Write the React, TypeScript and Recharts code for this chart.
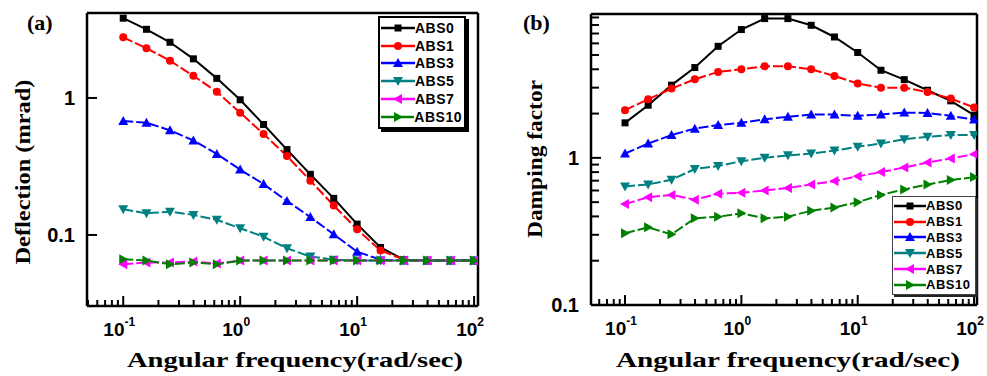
import { LineChart, Line, XAxis, YAxis, Legend, Label, ReferenceLine } from 'recharts';

// angular frequency (rad/s), 5 points per decade
const freq = [0.1, 0.158, 0.251, 0.398, 0.631, 1, 1.585, 2.512, 3.981, 6.31, 10, 15.85, 25.12, 39.81, 63.1, 100];

// (a) deflection, mrad
const defAbs0 = [3.82, 3.17, 2.55, 1.93, 1.39, 0.97, 0.64, 0.42, 0.277, 0.185, 0.12, 0.081, 0.066, 0.065, 0.065, 0.065];
const defAbs1 = [2.77, 2.31, 1.87, 1.45, 1.11, 0.78, 0.546, 0.377, 0.249, 0.164, 0.11, 0.077, 0.066, 0.065, 0.065, 0.065];
const defAbs3 = [0.68, 0.66, 0.58, 0.49, 0.39, 0.3, 0.235, 0.177, 0.135, 0.101, 0.0755, 0.066, 0.065, 0.065, 0.065, 0.065];
const defAbs5 = [0.154, 0.144, 0.148, 0.14, 0.129, 0.112, 0.097, 0.08, 0.0695, 0.066, 0.065, 0.065, 0.065, 0.065, 0.065, 0.065];
const defAbs7 = [0.061, 0.063, 0.063, 0.064, 0.062, 0.065, 0.065, 0.065, 0.065, 0.065, 0.065, 0.065, 0.065, 0.065, 0.065, 0.065];
const defAbs10 = [0.0665, 0.065, 0.061, 0.063, 0.061, 0.065, 0.065, 0.065, 0.065, 0.065, 0.065, 0.065, 0.065, 0.065, 0.065, 0.065];

// (b) damping factor
const dmpAbs0 = [1.73, 2.28, 3.12, 4.11, 5.73, 7.45, 8.84, 8.84, 7.96, 6.63, 5.2, 3.94, 3.4, 2.88, 2.44, 1.95];
const dmpAbs1 = [2.11, 2.5, 2.96, 3.42, 3.84, 4.0, 4.19, 4.19, 4.0, 3.6, 3.2, 3.0, 3.0, 2.8, 2.53, 2.2];
const dmpAbs3 = [1.07, 1.25, 1.43, 1.58, 1.67, 1.73, 1.83, 1.9, 1.97, 1.97, 1.93, 1.97, 2.03, 2.02, 1.93, 1.82];
const dmpAbs5 = [0.64, 0.66, 0.71, 0.84, 0.88, 0.95, 1.0, 1.04, 1.07, 1.12, 1.19, 1.25, 1.34, 1.39, 1.43, 1.43];
const dmpAbs7 = [0.485, 0.54, 0.56, 0.52, 0.57, 0.58, 0.6, 0.625, 0.66, 0.695, 0.75, 0.8, 0.86, 0.93, 0.99, 1.06];
const dmpAbs10 = [0.307, 0.337, 0.302, 0.388, 0.398, 0.42, 0.388, 0.398, 0.437, 0.46, 0.5, 0.56, 0.61, 0.66, 0.706, 0.74];

const seriesNames = ['ABS0', 'ABS1', 'ABS3', 'ABS5', 'ABS7', 'ABS10'];
const seriesColors = ['#000000', '#ff0000', '#0000ff', '#008080', '#ff00ff', '#008000'];
const seriesShapes = ['square', 'circle', 'up', 'down', 'left', 'right'];

const xMajor = [0.1, 1, 10, 100];
const xTicks = [0.05, 0.06, 0.07, 0.08, 0.09, 0.1, 0.2, 0.3, 0.4, 0.5, 0.6, 0.7, 0.8, 0.9, 1, 2, 3, 4, 5, 6, 7, 8, 9, 10, 20, 30, 40, 50, 60, 70, 80, 90, 100];
const yTicksA = [0.1, 1];
const yTicksB = [0.1, 0.2, 0.3, 0.4, 0.5, 0.6, 0.7, 0.8, 0.9, 1, 2, 3, 4, 5, 6, 7, 8, 9];

const xDomainA = [0.049, 108];
const yDomainA = [0.0303, 4.17];
const xDomainB = [0.051, 106];
const yDomainB = [0.1, 9.5];

const deflection = freq.map((f, i) => ({
  f,
  ABS0: defAbs0[i],
  ABS1: defAbs1[i],
  ABS3: defAbs3[i],
  ABS5: defAbs5[i],
  ABS7: defAbs7[i],
  ABS10: defAbs10[i],
}));

const damping = freq.map((f, i) => ({
  f,
  ABS0: dmpAbs0[i],
  ABS1: dmpAbs1[i],
  ABS3: dmpAbs3[i],
  ABS5: dmpAbs5[i],
  ABS7: dmpAbs7[i],
  ABS10: dmpAbs10[i],
}));

const SANS = '"Liberation Sans", Arial, sans-serif';
const SERIF = '"Liberation Serif", "Times New Roman", serif';

function Marker({ shape, cx, cy, color }: { shape: string; cx: number; cy: number; color: string }) {
  if (shape === 'square') return <rect x={cx - 3.5} y={cy - 3.5} width={7} height={7} fill={color} />;
  if (shape === 'circle') return <circle cx={cx} cy={cy} r={4} fill={color} />;
  const s = 5;
  let pts = '';
  if (shape === 'up') pts = `${cx},${cy - s} ${cx + s},${cy + s * 0.8} ${cx - s},${cy + s * 0.8}`;
  if (shape === 'down') pts = `${cx},${cy + s} ${cx + s},${cy - s * 0.8} ${cx - s},${cy - s * 0.8}`;
  if (shape === 'left') pts = `${cx - s},${cy} ${cx + s * 0.8},${cy - s} ${cx + s * 0.8},${cy + s}`;
  if (shape === 'right') pts = `${cx + s},${cy} ${cx - s * 0.8},${cy - s} ${cx - s * 0.8},${cy + s}`;
  return <polygon points={pts} fill={color} />;
}

// labels only; the inward tick marks are drawn as reference-line stubs
function XTick(props: any) {
  const { x, y, payload } = props;
  const v = payload.value;
  if (!xMajor.includes(v)) return <g />;
  const exp = Math.round(Math.log10(v));
  return (
    <text x={x - 4} y={y + 30} textAnchor="middle" fontFamily={SANS} fontWeight="bold" fontSize={19} fill="#000">
      10
      <tspan dy={-10} fontSize={12}>
        {exp}
      </tspan>
    </text>
  );
}

function YTick(props: any) {
  const { x, y, payload } = props;
  const v = payload.value;
  if (v !== 1 && v !== 0.1) return <g />;
  return (
    <text x={x - 12} y={y} dy={7} textAnchor="end" fontFamily={SANS} fontWeight="bold" fontSize={20} fill="#000">
      {v === 1 ? '1' : '0.1'}
    </text>
  );
}

function XStub(len: number) {
  return (p: any) => {
    const yb = Math.max(p.y1, p.y2);
    return <path d={`M${p.x1},${yb}V${yb - len}`} stroke="#000" strokeWidth={2} fill="none" />;
  };
}

function YStub(len: number) {
  return (p: any) => {
    const xl = Math.min(p.x1, p.x2);
    return <path d={`M${xl},${p.y1}H${xl + len}`} stroke="#000" strokeWidth={2} fill="none" />;
  };
}

function renderTickMarks(yTicks: number[]) {
  return [
    ...xTicks.map((v) => <ReferenceLine key={`xt${v}`} x={v} shape={XStub(xMajor.includes(v) ? 10 : 6)} />),
    ...yTicks.map((v) => <ReferenceLine key={`yt${v}`} y={v} shape={YStub(v === 1 || v === 0.1 ? 10 : 8)} />),
  ];
}

// top and right sides of the box frame
function renderFrame(xDomain: number[], yDomain: number[]) {
  return [
    <ReferenceLine key="top" y={yDomain[1]} stroke="#000" strokeWidth={2.5} ifOverflow="visible" />,
    <ReferenceLine key="right" x={xDomain[1]} stroke="#000" strokeWidth={2.5} ifOverflow="visible" />,
  ];
}

function LegendBox({ rowH, lineW, fontSize, shadow }: { rowH: number; lineW: number; fontSize: number; shadow: boolean }) {
  return (
    <div
      style={{
        background: '#fff',
        border: shadow ? '2px solid #000' : '1.5px solid #444',
        boxShadow: shadow ? '3px 3px 0 #000' : '2px 2px 0 #222',
        padding: '1px 2px 1px 1px',
      }}
    >
      {seriesNames.map((name, i) => (
        <div key={name} style={{ display: 'flex', alignItems: 'center', height: rowH }}>
          <svg width={lineW} height={12}>
            <line x1={0} x2={lineW} y1={6} y2={6} stroke={seriesColors[i]} strokeWidth={2.5} />
            <Marker shape={seriesShapes[i]} cx={lineW / 2} cy={6} color={seriesColors[i]} />
          </svg>
          <span style={{ fontFamily: SANS, fontWeight: 'bold', fontSize, letterSpacing: 0.5, color: '#000' }}>{name}</span>
        </div>
      ))}
    </div>
  );
}

function renderSeries() {
  return seriesNames.map((name, i) => (
    <Line
      key={name}
      dataKey={name}
      stroke={seriesColors[i]}
      strokeWidth={2}
      strokeDasharray={i === 0 ? undefined : '10 3'}
      isAnimationActive={false}
      dot={(p: any) => <Marker key={`${name}-${p.index}`} shape={seriesShapes[i]} cx={p.cx} cy={p.cy} color={seriesColors[i]} />}
      activeDot={false}
    />
  ));
}

function AxisTitle({ cx, y, text, len }: any) {
  return (
    <text x={cx} y={y} textAnchor="middle" fontFamily={SERIF} fontWeight="bold" fontSize={22} textLength={len} lengthAdjust="spacingAndGlyphs">
      {text}
    </text>
  );
}

function YTitle({ cx, cy, text, len }: any) {
  return (
    <text
      x={cx}
      y={cy}
      transform={`rotate(-90 ${cx} ${cy})`}
      textAnchor="middle"
      dominantBaseline="central"
      fontFamily={SERIF}
      fontWeight="bold"
      fontSize={21}
      textLength={len}
      lengthAdjust="spacingAndGlyphs"
    >
      {text}
    </text>
  );
}

export default function App() {
  return (
    <div style={{ position: 'absolute', left: 0, top: 0, width: 987, height: 376, background: '#fff' }}>
      <div style={{ position: 'absolute', left: 0, top: 0 }}>
        <LineChart width={490} height={376} data={deflection} margin={{ top: 13, right: 12, bottom: 0, left: 0 }}>
          <XAxis
            dataKey="f"
            type="number"
            scale="log"
            domain={xDomainA}
            allowDataOverflow
            ticks={xTicks}
            interval={0}
            tick={<XTick />}
            tickLine={false}
            tickSize={0}
            tickMargin={0}
            height={70}
            axisLine={{ stroke: '#000', strokeWidth: 2.5 }}
          >
            <Label content={() => <AxisTitle cx={295} y={367} text="Angular frequency(rad/sec)" len={336} />} />
          </XAxis>
          <YAxis
            type="number"
            scale="log"
            domain={yDomainA}
            allowDataOverflow
            ticks={yTicksA}
            interval={0}
            tick={<YTick />}
            tickLine={false}
            tickSize={0}
            tickMargin={0}
            width={87}
            axisLine={{ stroke: '#000', strokeWidth: 2.5 }}
          >
            <Label content={() => <YTitle cx={23} cy={172} text="Deflection (mrad)" len={185} />} />
          </YAxis>
          {renderFrame(xDomainA, yDomainA)}
          {renderTickMarks(yTicksA)}
          {renderSeries()}
          <Legend
            layout="horizontal"
            verticalAlign="middle"
            align="center"
            wrapperStyle={{ left: 378, top: 16, width: 88, height: 108 }}
            content={() => <LegendBox rowH={17.8} lineW={34} fontSize={14} shadow />}
          />
          <text x={27} y={30} fontFamily={SERIF} fontWeight="bold" fontSize={22}>
            (a)
          </text>
        </LineChart>
      </div>
      <div style={{ position: 'absolute', left: 490, top: 0 }}>
        <LineChart width={497} height={376} data={damping} margin={{ top: 14, right: 10, bottom: 0, left: 0 }}>
          <XAxis
            dataKey="f"
            type="number"
            scale="log"
            domain={xDomainB}
            allowDataOverflow
            ticks={xTicks}
            interval={0}
            tick={<XTick />}
            tickLine={false}
            tickSize={0}
            tickMargin={0}
            height={71}
            axisLine={{ stroke: '#000', strokeWidth: 2.5 }}
          >
            <Label content={() => <AxisTitle cx={298} y={367} text="Angular  frequency(rad/sec)" len={344} />} />
          </XAxis>
          <YAxis
            type="number"
            scale="log"
            domain={yDomainB}
            allowDataOverflow
            ticks={yTicksB}
            interval={0}
            tick={<YTick />}
            tickLine={false}
            tickSize={0}
            tickMargin={0}
            width={101}
            axisLine={{ stroke: '#000', strokeWidth: 2.5 }}
          >
            <Label content={() => <YTitle cx={45} cy={159} text="Damping factor" len={158} />} />
          </YAxis>
          {renderFrame(xDomainB, yDomainB)}
          {renderTickMarks(yTicksB)}
          {renderSeries()}
          <Legend
            layout="horizontal"
            verticalAlign="middle"
            align="center"
            wrapperStyle={{ left: 402, top: 196, width: 84, height: 106 }}
            content={() => <LegendBox rowH={15.8} lineW={32} fontSize={13} shadow={false} />}
          />
          <text x={33} y={30} fontFamily={SERIF} fontWeight="bold" fontSize={22}>
            (b)
          </text>
        </LineChart>
      </div>
    </div>
  );
}
